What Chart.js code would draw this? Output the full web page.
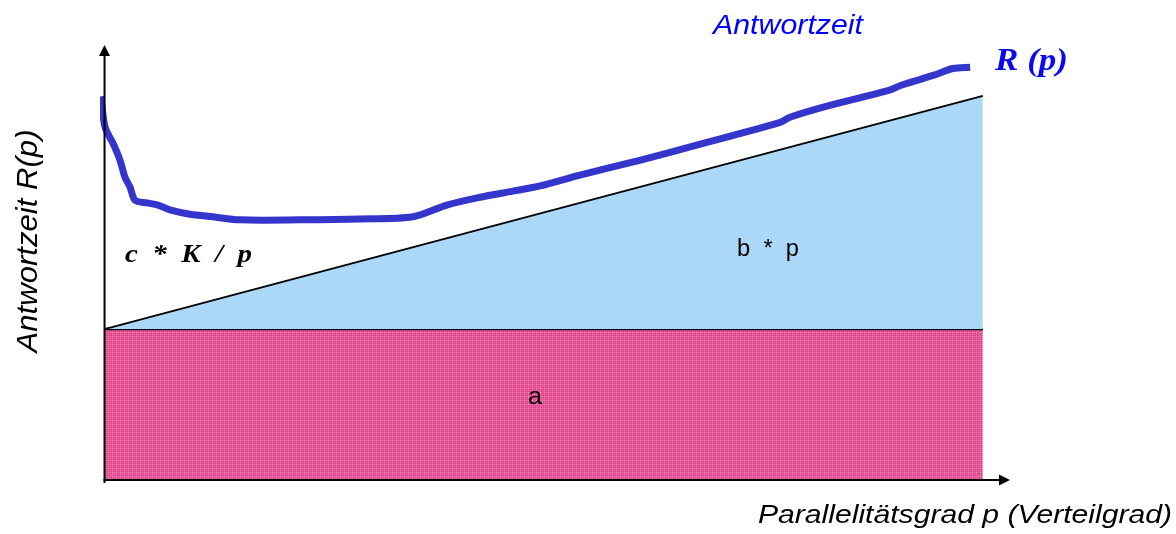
<!DOCTYPE html>
<html>
<head>
<meta charset="utf-8">
<script src="https://cdn.jsdelivr.net/npm/chart.js@4/dist/chart.umd.min.js"></script>
<style>
html,body{margin:0;padding:0;background:#fff;}
#wrap{width:1176px;height:534px;}
</style>
</head>
<body>
<div id="wrap"><canvas id="c" width="1176" height="534"></canvas></div>
<script>
// ---- data ----
const curveP = [-0.4, 0.06, 0.94, 1.71, 2.26, 2.82, 3.37, 4.69, 5.91, 7.23, 9.44, 11.98, 14.96, 21.6, 28.2, 34.07, 37.8, 41.5, 45.1, 48.1, 52.5, 59.1, 65.8, 74.6, 75.7, 80.1, 86.7, 87.9, 91.5, 93.7, 95.6];
const curveR = [88.2, 81.1, 77.4, 73.5, 69.6, 67.3, 64.3, 63.7, 63.2, 62.1, 61.1, 60.5, 59.8, 59.8, 60.0, 60.5, 63.2, 65.0, 66.4, 67.6, 70.1, 73.5, 77.2, 82.2, 83.4, 86.1, 89.6, 90.7, 93.0, 94.6, 94.9];
const aLevel = 34.7;      // constant part a
const pMax = 97;          // largest degree of parallelism shown
const bpTop = 88.3;       // a + b*pMax
const labelA = 'a';
const labelB = 'b  *  p';
const labelC = 'c  *  K  /  p';
const labelR = 'R (p)';
const labelCurve = 'Antwortzeit';
const yTitle = 'Antwortzeit R(p)';
const xTitle = 'Parallelitätsgrad p (Verteilgrad)';

const canvas = document.getElementById('c');
const ctx = canvas.getContext('2d');

function makePinkPattern(){
  const c = document.createElement('canvas');
  c.width = 4; c.height = 4;
  const g = c.getContext('2d');
  g.fillStyle = '#e3478e'; g.fillRect(0,0,4,4);
  g.fillStyle = '#e9609f'; g.fillRect(0,0,4,1); g.fillRect(0,0,1,4);
  g.fillStyle = '#f28cc0'; g.fillRect(0,0,1,1); g.fillRect(2,2,1,1);
  return ctx.createPattern(c,'repeat');
}

function fitText(g, text, x, y, targetW, font, color, align){
  g.save();
  g.font = font;
  g.fillStyle = color;
  g.textBaseline = 'alphabetic';
  g.textAlign = 'left';
  const w = g.measureText(text).width;
  const s = targetW / w;
  let x0 = x;
  if (align === 'center') x0 = x - targetW/2;
  if (align === 'right') x0 = x - targetW;
  g.translate(x0, y);
  g.scale(s, 1);
  g.fillText(text, 0, 0);
  g.restore();
}

const decorPlugin = {
  id: 'decor',
  afterDatasetsDraw(chart){
    const g = chart.ctx;
    const xs = chart.scales.x, ys = chart.scales.y;
    const x0 = xs.getPixelForValue(0);
    const y0 = ys.getPixelForValue(0);
    const top = chart.chartArea.top;
    const right = chart.chartArea.right;
    g.save();
    g.strokeStyle = '#000'; g.fillStyle = '#000'; g.lineWidth = 2;
    // y axis
    g.beginPath(); g.moveTo(x0, y0 + 3); g.lineTo(x0, top + 8); g.stroke();
    g.beginPath(); g.moveTo(x0, top); g.lineTo(x0 - 5.5, top + 11); g.lineTo(x0 + 5.5, top + 11); g.closePath(); g.fill();
    // x axis
    g.beginPath(); g.moveTo(x0 - 1, y0); g.lineTo(right - 8, y0); g.stroke();
    g.beginPath(); g.moveTo(right, y0); g.lineTo(right - 11, y0 - 5.5); g.lineTo(right - 11, y0 + 5.5); g.closePath(); g.fill();
    g.restore();

    // texts
    fitText(g, labelCurve, 713, 34, 150, 'italic 28px "Liberation Sans", Arial, sans-serif', '#0000ff', 'left');
    fitText(g, labelR, 995, 70, 73, 'bold italic 31px "Liberation Serif", "Times New Roman", serif', '#0a0aee', 'left');
    fitText(g, labelC, 125, 262, 127, 'bold italic 25px "Liberation Serif", "Times New Roman", serif', '#000', 'left');
    fitText(g, labelB, 737, 256, 62, '23px "Liberation Sans", Arial, sans-serif', '#000', 'left');
    fitText(g, labelA, 535, 404, 14, '24px "Liberation Sans", Arial, sans-serif', '#000', 'center');
    fitText(g, xTitle, 1172, 523, 414, 'italic 25px "Liberation Sans", Arial, sans-serif', '#000', 'right');
    // rotated y title
    g.save();
    g.translate(37, 241);
    g.rotate(-Math.PI/2);
    fitText(g, yTitle, 0, 0, 223, 'italic 30px "Liberation Sans", Arial, sans-serif', '#000', 'center');
    g.restore();
  }
};

new Chart(ctx, {
  type: 'line',
  data: {
    datasets: [
      {
        label: 'R(p)',
        data: curveP.map((p,i)=>({x:p, y:curveR[i]})),
        borderColor: '#3535cc',
        borderWidth: 7,
        pointRadius: 0,
        tension: 0.3,
        fill: false,
        borderJoinStyle: 'round',
        order: 0
      },
      {
        label: 'b*p',
        data: [{x:0, y:aLevel}, {x:pMax, y:bpTop}],
        borderColor: '#000',
        borderWidth: 1.8,
        backgroundColor: '#acd8f8',
        pointRadius: 0,
        fill: {value: aLevel},
        order: 1
      },
      {
        label: 'a',
        data: [{x:0, y:aLevel}, {x:pMax, y:aLevel}],
        borderColor: '#000',
        borderWidth: 2.5,
        backgroundColor: makePinkPattern(),
        pointRadius: 0,
        fill: 'origin',
        order: 2
      }
    ]
  },
  options: {
    responsive: false,
    animation: false,
    devicePixelRatio: 1,
    layout: { padding: { left: 100, right: 166, top: 45, bottom: 54 } },
    scales: {
      x: { type: 'linear', min: -0.5, max: 100, display: false },
      y: { type: 'linear', min: 0, max: 100, display: false }
    },
    plugins: { legend: { display: false }, tooltip: { enabled: false }, title: { display: false } }
  },
  plugins: [decorPlugin]
});
</script>
</body>
</html>
